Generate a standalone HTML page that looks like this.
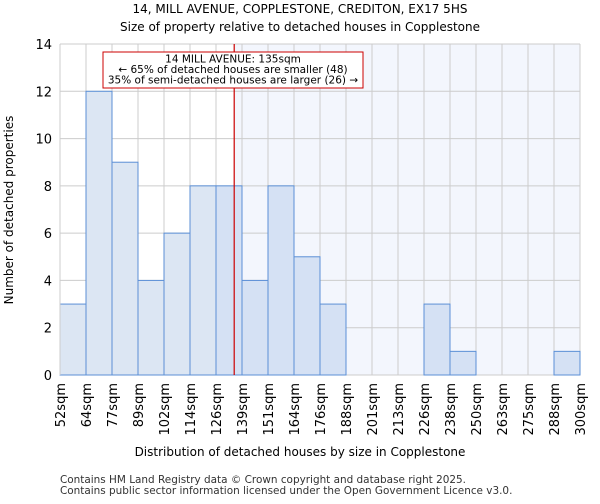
<!DOCTYPE html>
<html><head><meta charset="utf-8"><style>
body{margin:0;background:#fff;font-family:"DejaVu Sans","Liberation Sans",sans-serif;}
</style></head><body>
<svg width="600" height="500" xmlns="http://www.w3.org/2000/svg" font-family="DejaVu Sans, Liberation Sans, sans-serif">
<text x="300" y="13" text-anchor="middle" font-size="12">14, MILL AVENUE, COPPLESTONE, CREDITON, EX17 5HS</text>
<text x="300" y="31" text-anchor="middle" font-size="12">Size of property relative to detached houses in Copplestone</text>
<g id="plot"></g>
<text x="300" y="456" text-anchor="middle" font-size="12">Distribution of detached houses by size in Copplestone</text>
<text transform="translate(13,210) rotate(-90)" text-anchor="middle" font-size="12">Number of detached properties</text>
<text x="60" y="483" font-size="10.45" fill="#333">Contains HM Land Registry data © Crown copyright and database right 2025.</text>
<text x="60" y="494" font-size="10.45" fill="#333">Contains public sector information licensed under the Open Government Licence v3.0.</text>
</svg>
<script>
const labels=["52sqm","64sqm","77sqm","89sqm","102sqm","114sqm","126sqm","139sqm","151sqm","164sqm","176sqm","188sqm","201sqm","213sqm","226sqm","238sqm","250sqm","263sqm","275sqm","288sqm","300sqm"];
const counts=[3,12,9,4,6,8,8,4,8,5,3,0,0,0,3,1,0,0,0,1];
const yTicks=[0,2,4,6,8,10,12,14];
const propertyBin=6.7;
const X0=60,X1=580,Y0=375,Y1=44,YMAX=14;
const n=counts.length,bw=(X1-X0)/n;
const xs=i=>X0+i*bw, ys=v=>Y0-(v/YMAX)*(Y0-Y1);
const ns="http://www.w3.org/2000/svg",g=document.getElementById('plot');
function mk(t,a){const e=document.createElementNS(ns,t);for(const k in a)e.setAttribute(k,a[k]);g.appendChild(e);return e;}
const redX=xs(propertyBin);
let bg=mk('rect',{x:redX,y:Y1,width:X1-redX,height:Y0-Y1,fill:'#f3f6fd'});


for(let i=0;i<=n;i++){let l=mk('line',{x1:xs(i),x2:xs(i),y1:Y1,y2:Y0,stroke:'#cccccc','stroke-width':1});

}
yTicks.forEach(v=>{let l=mk('line',{x1:X0,x2:X1,y1:ys(v),y2:ys(v),stroke:'#cccccc','stroke-width':1});


let t=mk('text',{x:X0-8,y:ys(v)+5,'text-anchor':'end','font-size':13});t.textContent=v;

});
counts.forEach((c,i)=>{if(c<=0)return;const left=xs(i+1)<=redX;
let r=mk('rect',{x:xs(i),y:ys(c),width:bw,height:Y0-ys(c),fill:left?'#dce6f3':'#d5e1f4',stroke:'#5b8fd6','stroke-width':1});

});
labels.forEach((s,i)=>{let t=mk('text',{transform:`translate(${xs(i)+5},${Y0+8}) rotate(-90)`,'text-anchor':'end','font-size':13});t.textContent=s;

});
let ax=mk('line',{x1:X0,x2:X0,y1:Y1,y2:Y0,stroke:'#cccccc'});


let rl=mk('line',{x1:redX,x2:redX,y1:Y1,y2:Y0,stroke:'#cc0000','stroke-width':1.2});


let box=mk('rect',{x:103,y:52,width:260,height:36,fill:'#fff',stroke:'#cc0000','stroke-width':1});


["14 MILL AVENUE: 135sqm","← 65% of detached houses are smaller (48)","35% of semi-detached houses are larger (26) →"].forEach((s,k)=>{
let t=mk('text',{x:233,y:62.5+k*10.5,'text-anchor':'middle','font-size':10.5});t.textContent=s;

});
</script>
</body></html>
